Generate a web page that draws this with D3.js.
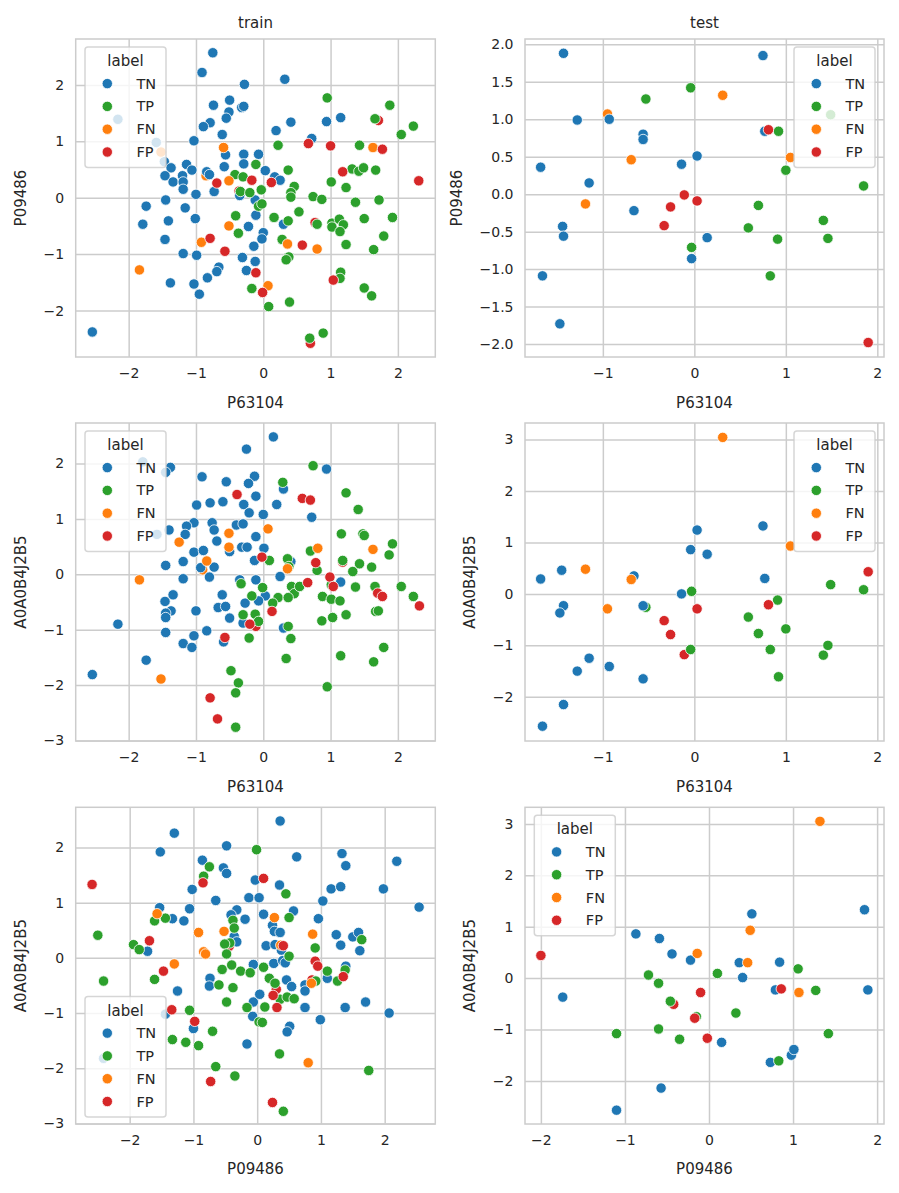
<!DOCTYPE html>
<html lang="en">
<head>
<meta charset="UTF-8" />
<title>train / test scatter</title>
<style>
  body { margin: 0; background: #fff; }
  svg { display: block; font-family: "DejaVu Sans", sans-serif; }
</style>
</head>
<body>
<svg id="chart" width="899" height="1193"></svg>
<script src="https://d3js.org/d3.v7.min.js"></script>
<script>
const labelOrder = ["TN", "TP", "FN", "FP"];
const labelColors = ["#1f77b4", "#2ca02c", "#ff7f0e", "#d62728"];

// small helper: [[x, y], ...] -> [{x, y, label}, ...]
const tag = (label, pairs) => pairs.map(p => ({ x: p[0], y: p[1], label }));

// train: x = P63104, y = P09486
const trainP63104P09486 = [
  ...tag("FP", [[1.71,1.37],[0.77,-0.44],[0.70,-2.58],[-0.36,0.12]]),
  ...tag("FN", [[-0.85,0.39]]),
  ...tag("TN", [[-0.75,2.57],[-0.91,2.22],[-0.28,2.01],[-0.74,1.64],[-0.50,1.73],[-0.32,1.60],[-0.29,1.62],[-0.51,1.52],[-0.55,1.41],[-0.79,1.33],[-0.89,1.26],[-2.16,1.39],[-0.61,1.12],[-1.03,1.01],[-1.59,0.98],[-0.56,0.76],[-0.29,0.77],[-0.07,0.77],[-1.47,0.64],[-1.14,0.59],[-1.06,0.49],[-1.37,0.53],[-1.46,0.39],[-1.20,0.39],[-1.34,0.28],[-1.19,0.28],[-1.19,0.15],[-1.00,0.06],[-0.84,0.46],[-0.80,0.41],[-0.58,0.55],[-0.73,0.11],[-0.29,0.60],[-0.35,0.04],[-0.12,-0.04],[-1.74,-0.15],[-1.45,-0.04],[-1.16,-0.18],[-1.79,-0.47],[-1.41,-0.41],[-1.01,-0.37],[-0.11,-0.31],[-0.22,-0.51],[-1.46,-0.74],[-0.14,-0.86],[-1.19,-0.99],[-0.99,-1.02],[-0.31,-1.06],[-0.12,-1.13],[-0.66,-1.23],[-0.69,-1.31],[-0.83,-1.42],[-0.25,-1.29],[-1.38,-1.51],[-1.03,-1.53],[-0.95,-1.71],[-2.54,-2.38],[0.32,2.10],[0.41,1.34],[0.94,1.35],[1.15,1.42],[0.19,1.19],[0.72,1.05],[0.03,0.48],[0.17,0.37],[0.25,0.31],[0.30,-0.47],[0.00,-0.62],[-0.02,-0.73]]),
  ...tag("TP", [[-0.11,0.59],[-0.42,0.41],[-0.30,0.37],[-0.34,0.11],[-0.41,-0.32],[-0.37,-0.63],[-0.17,-1.61],[-0.20,0.09],[-0.07,-0.15],[0.95,1.77],[1.88,1.64],[1.66,1.40],[2.23,1.27],[2.05,1.12],[0.22,0.93],[1.43,0.93],[0.37,0.49],[-0.03,0.14],[-0.02,-0.11],[0.46,0.20],[0.41,0.09],[0.41,0.01],[0.74,0.02],[0.87,-0.03],[1.32,0.51],[1.42,0.47],[1.49,0.53],[1.67,0.49],[1.01,0.28],[1.23,0.18],[1.37,-0.08],[1.72,-0.04],[0.53,-0.25],[0.16,-0.35],[0.37,-0.41],[0.80,-0.47],[1.02,-0.45],[1.02,-0.52],[1.13,-0.38],[1.19,-0.48],[1.14,-0.60],[1.50,-0.37],[1.92,-0.35],[0.28,-0.74],[1.23,-0.83],[1.79,-0.68],[1.64,-0.92],[0.38,-1.05],[0.34,-1.10],[1.15,-1.32],[1.14,-1.43],[1.50,-1.60],[1.61,-1.74],[0.08,-1.93],[0.39,-1.85],[0.69,-2.49],[0.89,-2.40]]),
  ...tag("FN", [[-1.52,0.81],[-0.59,0.89],[-0.51,0.30],[-0.51,-0.50],[-0.92,-0.79],[-1.84,-1.28],[1.63,0.89],[0.36,-0.82],[0.80,-0.91],[0.07,-1.56]]),
  ...tag("FP", [[-0.69,0.26],[-0.17,0.31],[-0.79,-0.72],[-0.57,-0.95],[-0.11,-1.33],[-0.01,-1.68],[0.67,0.96],[1.00,0.92],[1.77,0.86],[0.12,0.27],[1.18,0.46],[2.31,0.30],[0.58,-0.84],[1.04,-1.46]])
];

// test: x = P63104, y = P09486
const testP63104P09486 = [
  ...tag("FN", [[-0.95,1.07]]),
  ...tag("TN", [[-1.43,1.88],[0.75,1.85],[-0.93,1.00],[-1.28,0.99],[-0.56,0.80],[-0.56,0.73],[0.77,0.84],[0.03,0.51],[-0.14,0.40],[-1.68,0.36],[-1.15,0.15],[-0.66,-0.22],[-1.44,-0.43],[-1.43,-0.56],[0.14,-0.58],[-0.03,-0.86],[-1.66,-1.09],[-1.47,-1.73]]),
  ...tag("TP", [[-0.04,1.42],[-0.53,1.27],[0.92,0.84],[1.49,1.06],[1.00,0.32],[1.85,0.11],[0.70,-0.15],[1.41,-0.35],[0.59,-0.45],[0.91,-0.60],[1.46,-0.59],[-0.03,-0.71],[0.83,-1.09]]),
  ...tag("FN", [[0.31,1.32],[1.05,0.49],[-0.69,0.46],[-1.19,-0.13]]),
  ...tag("FP", [[0.81,0.86],[-0.11,-0.01],[0.03,-0.09],[-0.26,-0.17],[-0.33,-0.42],[1.90,-1.98]])
];

// train: x = P63104, y = A0A0B4J2B5
const trainP63104A0A = [
  ...tag("FP", [[1.18,0.22],[-0.11,-0.94]]),
  ...tag("FN", [[-0.90,0.08]]),
  ...tag("TN", [[-0.25,2.26],[-1.79,2.03],[-1.38,1.93],[-1.45,1.84],[-0.91,1.76],[-0.55,1.67],[-0.13,1.77],[-0.22,1.64],[-0.11,1.41],[-0.99,1.25],[-0.79,1.29],[-0.60,1.31],[-0.29,1.26],[-0.21,1.11],[0.00,1.08],[-1.03,0.93],[-0.76,0.93],[-1.14,0.87],[-1.16,0.72],[-0.73,0.80],[-0.69,0.60],[-0.40,0.89],[-0.30,0.91],[-0.50,0.41],[-0.32,0.49],[-0.24,0.49],[-0.11,0.68],[-1.58,0.72],[-1.40,0.80],[-1.03,0.40],[-0.89,0.43],[-0.13,0.25],[-1.19,0.23],[-1.45,0.16],[-0.93,0.12],[-0.73,0.13],[-0.80,-0.05],[-1.19,-0.08],[-0.35,-0.10],[-0.11,-0.10],[-1.34,-0.37],[-1.46,-0.49],[-1.37,-0.66],[-1.45,-0.70],[-1.45,-0.78],[-1.00,-0.66],[-0.61,-0.37],[-0.67,-0.60],[-0.56,-0.58],[-0.50,-0.79],[-0.27,-0.52],[-0.30,-0.88],[-1.45,-1.05],[-0.84,-1.02],[-1.03,-1.11],[-1.19,-1.25],[-1.06,-1.32],[-0.59,-1.22],[-2.16,-0.90],[-1.74,-1.55],[-2.54,-1.81],[0.15,2.48],[0.94,1.90],[0.30,1.54],[0.20,1.26],[0.72,1.03],[0.01,0.47],[0.41,0.23],[0.25,-0.04],[1.15,-0.14],[0.03,-0.39],[-0.07,-0.48],[0.30,-0.97]]),
  ...tag("TP", [[-0.33,-0.17],[-0.17,-0.39],[-0.30,-0.73],[-0.12,-0.72],[-0.07,-0.85],[-0.21,-1.15],[-0.48,-1.74],[-0.37,-1.96],[-0.41,-2.14],[-0.41,-2.76],[0.74,1.96],[0.29,1.66],[1.23,1.47],[1.41,1.17],[1.16,0.73],[1.48,0.73],[1.50,0.70],[1.92,0.55],[1.87,0.35],[0.09,0.25],[0.36,0.28],[0.38,0.14],[0.70,0.42],[0.80,0.07],[1.18,0.25],[1.33,0.05],[1.43,0.19],[1.61,0.13],[2.05,-0.22],[2.23,-0.40],[1.01,-0.19],[1.37,-0.23],[1.66,-0.22],[-0.01,-0.24],[0.22,-0.42],[0.42,-0.22],[0.46,-0.35],[0.37,-0.42],[0.54,-0.22],[0.88,-0.40],[1.01,-0.45],[1.14,-0.48],[0.14,-0.52],[0.87,-0.84],[1.03,-0.78],[1.23,-0.73],[1.67,-0.67],[1.71,-0.66],[0.37,-0.94],[0.41,-1.16],[0.34,-1.52],[1.15,-1.47],[1.64,-1.58],[1.79,-1.32],[0.95,-2.03]]),
  ...tag("FN", [[-0.51,0.74],[-0.51,0.49],[-1.25,0.58],[-0.84,0.24],[-1.84,-0.10],[-1.52,-1.89],[0.07,0.82],[1.63,0.45],[0.36,0.10],[0.81,0.47]]),
  ...tag("FP", [[-0.39,1.44],[-0.20,-0.90],[-0.57,-1.14],[-0.79,-2.23],[-0.68,-2.61],[0.58,1.37],[0.70,1.34],[-0.02,0.31],[0.78,0.21],[2.32,-0.57],[0.66,-0.15],[0.99,-0.05],[1.04,-0.22],[1.70,-0.34],[1.77,-0.40],[0.13,-0.67]])
];

// test: x = P63104, y = A0A0B4J2B5
const testP63104A0A = [
  ...tag("FP", [[-0.11,-1.18]]),
  ...tag("TP", [[1.49,0.18],[1.85,0.08],[-0.03,0.05],[-0.53,-0.26],[0.91,-0.12],[0.59,-0.45],[1.00,-0.68],[0.70,-0.77],[-0.04,-1.08],[0.83,-1.08],[1.46,-1.00],[1.41,-1.19],[0.92,-1.61]]),
  ...tag("TN", [[0.75,1.32],[0.03,1.24],[-0.04,0.86],[0.14,0.77],[0.77,0.30],[-1.68,0.29],[-1.45,0.46],[-0.66,0.35],[-0.14,0.00],[-1.43,-0.23],[-1.47,-0.37],[-0.56,-0.23],[-1.15,-1.25],[-1.28,-1.50],[-0.93,-1.41],[-0.56,-1.65],[-1.43,-2.15],[-1.66,-2.57]]),
  ...tag("FN", [[0.31,3.04],[1.05,0.93],[-1.19,0.48],[-0.69,0.28],[-0.95,-0.29]]),
  ...tag("FP", [[1.90,0.43],[0.03,-0.29],[0.81,-0.21],[-0.33,-0.52],[-0.26,-0.79]])
];

// train: x = P09486, y = A0A0B4J2B5
const trainP09486A0A = [
  ...tag("FP", [[0.30,-0.57],[-0.44,0.21],[0.86,-0.40]]),
  ...tag("TN", [[-1.30,2.26],[-1.52,1.92],[-0.48,2.03],[-0.86,1.77],[-0.53,1.63],[-0.48,1.53],[-0.03,1.41],[-1.02,1.24],[-0.65,1.04],[-0.13,1.09],[0.03,1.09],[-1.06,0.89],[-1.53,0.91],[-1.33,0.71],[-1.15,0.67],[-0.32,0.87],[-0.41,0.78],[-0.19,0.70],[-0.36,0.39],[-0.32,0.29],[-1.72,0.12],[-0.06,-0.12],[-0.74,-0.37],[-0.75,-0.51],[-1.25,-0.60],[-1.44,-1.02],[-0.06,-0.80],[-0.07,-1.06],[-1.00,-1.28],[-0.16,-1.56],[-2.41,-1.82],[0.36,2.48],[0.62,1.83],[1.33,1.89],[1.39,1.67],[2.19,1.75],[0.35,1.32],[1.16,1.25],[1.31,1.29],[1.98,1.25],[1.03,1.03],[2.54,0.92],[0.57,0.85],[0.10,0.79],[0.96,0.71],[0.24,0.59],[0.27,0.48],[0.36,0.46],[1.24,0.42],[1.50,0.38],[1.59,0.46],[1.31,0.23],[1.61,0.13],[0.14,0.22],[0.28,0.24],[0.38,0.14],[0.26,-0.10],[0.40,-0.05],[0.44,-0.09],[0.46,-0.40],[0.54,-0.52],[1.10,-0.37],[1.39,-0.15],[0.75,-0.49],[0.75,-0.60],[0.04,-0.66],[0.75,-0.90],[1.38,-0.90],[1.70,-0.80],[2.07,-1.00],[0.99,-1.12],[0.51,-1.24],[0.47,-1.34]]),
  ...tag("TP", [[-0.01,1.96],[-0.75,1.65],[-0.84,1.48],[-1.61,0.67],[-1.44,0.72],[-0.38,0.68],[-0.36,0.54],[-0.43,0.27],[-0.51,0.25],[-2.50,0.41],[-1.94,0.24],[-1.85,0.15],[-0.48,0.07],[-1.61,-0.39],[-2.41,-0.42],[-0.55,-0.21],[-0.40,-0.13],[-0.26,-0.24],[-0.11,-0.27],[-0.60,-0.49],[-0.38,-0.54],[-0.48,-0.80],[-1.06,-0.95],[-0.16,-0.90],[0.03,-1.16],[-0.70,-1.33],[-1.33,-1.48],[-1.12,-1.53],[-0.92,-1.59],[-0.65,-1.97],[-0.35,-2.14],[0.45,1.16],[0.50,0.73],[1.64,0.33],[0.91,0.18],[0.50,0.03],[0.10,-0.17],[0.19,-0.37],[0.28,-0.46],[1.10,-0.24],[1.26,-0.42],[1.38,-0.22],[0.92,-0.42],[0.36,-0.75],[0.47,-0.71],[0.58,-0.74],[0.12,-0.89],[0.08,-1.17],[0.35,-1.74],[1.75,-2.04],[0.41,-2.78]]),
  ...tag("FN", [[-1.57,0.80],[-0.92,0.46],[-0.52,0.48],[-0.84,0.11],[-0.81,0.07],[-1.30,-0.11],[0.27,0.73],[0.87,0.43],[0.37,0.23],[0.85,-0.46],[0.80,-1.90]]),
  ...tag("FP", [[-0.85,1.36],[-2.59,1.33],[-1.69,0.31],[-1.47,-0.24],[-1.34,-0.94],[-0.98,-1.15],[-0.73,-2.24],[0.10,1.44],[0.41,0.22],[0.91,-0.06],[0.95,-0.15],[1.35,-0.34],[0.25,-0.68],[0.31,-0.90],[0.24,-2.62]])
];

// test: x = P09486, y = A0A0B4J2B5
const testP09486A0A = [
  ...tag("FP", [[-0.42,-0.51]]),
  ...tag("TN", [[1.85,1.33],[0.51,1.25],[-0.87,0.86],[-0.59,0.77],[-0.44,0.47],[-0.22,0.35],[0.36,0.30],[0.84,0.31],[0.40,0.01],[0.79,-0.23],[1.89,-0.23],[-1.74,-0.37],[0.15,-1.25],[0.98,-1.50],[1.01,-1.39],[0.73,-1.64],[-0.57,-2.14],[-1.10,-2.57]]),
  ...tag("TP", [[1.06,0.18],[-0.72,0.06],[-0.60,-0.10],[0.10,0.09],[1.27,-0.24],[-0.46,-0.45],[-0.15,-0.75],[0.32,-0.68],[-1.10,-1.08],[-0.60,-0.99],[-0.35,-1.19],[1.42,-1.08],[0.83,-1.61]]),
  ...tag("FN", [[1.32,3.05],[0.49,0.93],[-0.14,0.48],[0.46,0.30],[1.07,-0.28]]),
  ...tag("FP", [[-2.00,0.44],[0.86,-0.21],[-0.10,-0.28],[-0.17,-0.78],[-0.02,-1.17]])
];

// layout
const cols = [[75.7, 435.3], [525, 884]];
const rows = [[39, 357], [423, 741], [807.3, 1124]];

const panels = [
  { title: "train", data: trainP63104P09486, xName: "P63104", yName: "P09486", col: 0, row: 0,
    xDomain: [-2.787, 2.556], yDomain: [-2.824, 2.814], legend: "ul" },
  { title: "test", data: testP63104P09486, xName: "P63104", yName: "P09486", col: 1, row: 0,
    xDomain: [-1.851, 2.073], yDomain: [-2.173, 2.071], legend: "ur", yTicks: 8, yFormat: ".1f" },
  { title: "", data: trainP63104A0A, xName: "P63104", yName: "A0A0B4J2B5", col: 0, row: 1,
    xDomain: [-2.787, 2.556], yDomain: [-3.009, 2.731], legend: "ul" },
  { title: "", data: testP63104A0A, xName: "P63104", yName: "A0A0B4J2B5", col: 1, row: 1,
    xDomain: [-1.851, 2.073], yDomain: [-2.858, 3.32], legend: "ur" },
  { title: "", data: trainP09486A0A, xName: "P09486", yName: "A0A0B4J2B5", col: 0, row: 2,
    xDomain: [-2.847, 2.794], yDomain: [-3.01, 2.728], legend: "ll" },
  { title: "", data: testP09486A0A, xName: "P09486", yName: "A0A0B4J2B5", col: 1, row: 2,
    xDomain: [-2.189, 2.082], yDomain: [-2.839, 3.323], legend: "ul" }
];

const svg = d3.select("#chart");
const color = d3.scaleOrdinal(labelOrder, labelColors);
const gridColor = "#cccccc";
const textColor = "#262626";
const tickPad = 11.5;

panels.forEach(p => {
  const [x0, x1] = cols[p.col];
  const [y0, y1] = rows[p.row];
  const w = x1 - x0, h = y1 - y0;

  const x = d3.scaleLinear().domain(p.xDomain).range([0, w]);
  const y = d3.scaleLinear().domain(p.yDomain).range([h, 0]);

  const g = svg.append("g").attr("transform", `translate(${x0},${y0})`);

  // grid
  g.append("g")
    .attr("transform", `translate(0,${h})`)
    .call(d3.axisBottom(x).ticks(5).tickSize(-h).tickFormat(""))
    .call(a => a.select(".domain").remove())
    .selectAll("line").attr("stroke", gridColor).attr("stroke-width", 1.5);
  g.append("g")
    .call(d3.axisLeft(y).ticks(p.yTicks || 5).tickSize(-w).tickFormat(""))
    .call(a => a.select(".domain").remove())
    .selectAll("line").attr("stroke", gridColor).attr("stroke-width", 1.5);

  // tick labels
  const xAxis = g.append("g")
    .attr("transform", `translate(0,${h})`)
    .call(d3.axisBottom(x).ticks(5).tickSize(0).tickPadding(tickPad));
  const yAxis = g.append("g")
    .call(d3.axisLeft(y).ticks(p.yTicks || 5, p.yFormat).tickSize(0).tickPadding(tickPad));
  [xAxis, yAxis].forEach(a => {
    a.select(".domain").remove();
    a.selectAll("text")
      .attr("fill", textColor)
      .style("font-family", "DejaVu Sans, sans-serif")
      .style("font-size", "14px");
  });

  // points
  g.append("g")
    .selectAll("circle")
    .data(p.data)
    .join("circle")
    .attr("cx", d => x(d.x))
    .attr("cy", d => y(d.y))
    .attr("r", 5.2)
    .attr("fill", d => color(d.label))
    .attr("stroke", "#fff")
    .attr("stroke-width", 0.8);

  // frame
  g.append("rect")
    .attr("width", w).attr("height", h)
    .attr("fill", "none")
    .attr("stroke", gridColor)
    .attr("stroke-width", 1.5);

  // title and axis labels
  if (p.title) {
    g.append("text")
      .attr("x", w / 2).attr("y", -11)
      .attr("text-anchor", "middle")
      .attr("fill", textColor)
      .style("font-size", "15px")
      .text(p.title);
  }
  g.append("text")
    .attr("x", w / 2).attr("y", h + 50.5)
    .attr("text-anchor", "middle")
    .attr("fill", textColor)
    .style("font-size", "15px")
    .text(p.xName);

  let maxW = 0;
  yAxis.selectAll("text").each(function() { maxW = Math.max(maxW, this.getBBox().width); });
  const labelX = -tickPad - maxW - 18;
  g.append("text")
    .attr("transform", `translate(${labelX},${h / 2}) rotate(-90)`)
    .attr("text-anchor", "middle")
    .attr("fill", textColor)
    .style("font-size", "15px")
    .text(p.yName);

  // legend
  const lw = 81, lh = 120.5;
  let lx = 9.3, ly = 8;
  if (p.legend === "ur") lx = w - 9 - lw;
  if (p.legend === "ll") ly = h - 7 - lh;
  const leg = g.append("g").attr("transform", `translate(${lx},${ly})`);
  leg.append("rect")
    .attr("width", lw).attr("height", lh)
    .attr("rx", 3)
    .attr("fill", "#fff").attr("fill-opacity", 0.8)
    .attr("stroke", gridColor).attr("stroke-opacity", 0.8)
    .attr("stroke-width", 1.5);
  leg.append("text")
    .attr("x", lw / 2).attr("y", 19)
    .attr("text-anchor", "middle")
    .attr("fill", textColor)
    .style("font-size", "15px")
    .text("label");
  const items = leg.selectAll(".item")
    .data(labelOrder)
    .join("g")
    .attr("transform", (d, i) => `translate(0,${36.6 + i * 22.8})`);
  items.append("circle")
    .attr("cx", 22.3).attr("r", 5.2)
    .attr("fill", d => color(d))
    .attr("stroke", "#fff").attr("stroke-width", 0.8);
  items.append("text")
    .attr("x", 51.5).attr("dy", "0.35em")
    .attr("fill", textColor)
    .style("font-size", "14.5px")
    .text(d => d);
});
</script>
</body>
</html>
